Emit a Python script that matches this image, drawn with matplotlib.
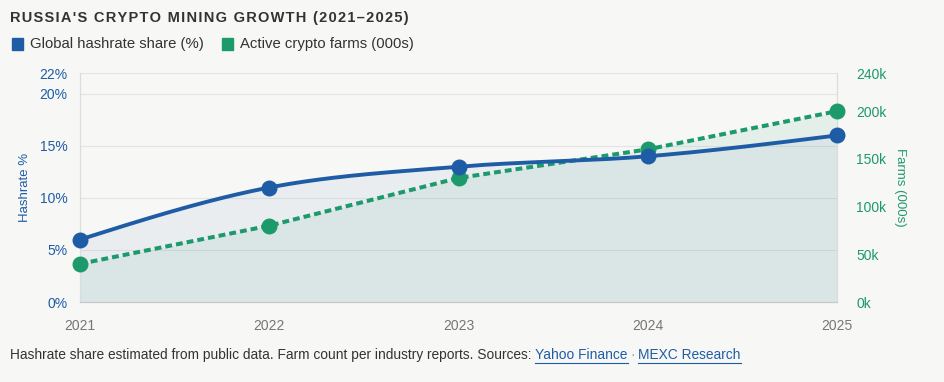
import numpy as np
import matplotlib
matplotlib.use("Agg")
import matplotlib.pyplot as plt

plt.rcParams["font.family"] = ["Liberation Sans", "DejaVu Sans"]

# Chart data
years = [2021, 2022, 2023, 2024, 2025]
hashrate_share = [6, 11, 13, 14, 16]        # percent
active_farms = [40, 80, 130, 160, 200]      # thousands

left_ticks = [0, 5, 10, 15, 20, 22]
right_ticks = [0, 50, 100, 150, 200, 240]

BLUE = "#1f5ca6"
GREEN = "#1d9a6c"
BG = "#f7f7f5"


def monotone_curve(x, y, n=300):
    # monotone-x cubic (d3 style), only used to draw the smooth line
    x = np.asarray(x, float)
    y = np.asarray(y, float)
    h = np.diff(x)
    s = np.diff(y) / h
    m = np.zeros_like(y)
    for i in range(1, len(y) - 1):
        p = (s[i - 1] * h[i] + s[i] * h[i - 1]) / (h[i - 1] + h[i])
        m[i] = (np.sign(s[i - 1]) + np.sign(s[i])) * min(abs(s[i - 1]), abs(s[i]), 0.5 * abs(p))
    m[0] = (3 * s[0] - m[1]) / 2
    m[-1] = (3 * s[-1] - m[-2]) / 2
    xs = np.linspace(x[0], x[-1], n)
    idx = np.clip(np.searchsorted(x, xs) - 1, 0, len(x) - 2)
    t = (xs - x[idx]) / h[idx]
    h00 = 2 * t**3 - 3 * t**2 + 1
    h10 = t**3 - 2 * t**2 + t
    h01 = -2 * t**3 + 3 * t**2
    h11 = t**3 - t**2
    ys = h00 * y[idx] + h10 * h[idx] * m[idx] + h01 * y[idx + 1] + h11 * h[idx] * m[idx + 1]
    return xs, ys


fig = plt.figure(figsize=(9.45, 3.82), dpi=100, facecolor=BG)
ax = fig.add_axes([0.0847, 0.2094, 0.801, 0.5995], facecolor=BG)
ax2 = ax.twinx()

# farms (right axis), dashed, filled
ax2.fill_between(years, active_farms, 0, color=GREEN, alpha=0.08, lw=0)
ax2.plot(years, active_farms, color=GREEN, lw=2.9, ls=(0, (1.7, 1.0)), zorder=3)
ax2.scatter(years, active_farms, s=110, color=GREEN, zorder=4, clip_on=False)

# hashrate (left axis), smooth line, filled
xs, ys = monotone_curve(years, hashrate_share)
ax.fill_between(xs, ys, 0, color=BLUE, alpha=0.06, lw=0)
ax2.plot(xs, np.array(ys) * 240 / 22, color=BLUE, lw=2.8, zorder=5)
ax2.scatter(years, np.array(hashrate_share) * 240 / 22, s=110, color=BLUE, zorder=6, clip_on=False)

ax.set_xlim(2021, 2025)
ax.set_ylim(0, 22)
ax2.set_ylim(0, 240)
ax.set_xticks(years)
ax.set_yticks(left_ticks)
ax.set_yticklabels([f"{v}%" for v in left_ticks])
ax2.set_yticks(right_ticks)
ax2.set_yticklabels([f"{v}k" for v in right_ticks])

ax.grid(axis="y", color="#e4e4e4", lw=0.8)
ax.set_axisbelow(True)
for a in (ax, ax2):
    a.spines["top"].set_visible(False)
    a.spines["left"].set_color("#dcdcdc")
    a.spines["right"].set_color("#dcdcdc")
    a.spines["bottom"].set_color("#c8c8c8")
    a.tick_params(length=0)

ax.tick_params(axis="x", colors="#777777", labelsize=10, pad=12)
ax.tick_params(axis="y", colors=BLUE, labelsize=10, pad=9)
ax2.tick_params(axis="y", colors=GREEN, labelsize=10, pad=14)

ax.set_ylabel("Hashrate %", color=BLUE, fontsize=9.5, labelpad=6)
ax2.set_ylabel("Farms (000s)", color=GREEN, fontsize=9.5, rotation=270, labelpad=14)

# title and legend
fig.text(10 / 945, 1 - 18 / 382, "\u200a".join("RUSSIA'S CRYPTO MINING GROWTH (2021\u20132025)"),
         fontsize=10.5, fontweight="bold", color="#333333", va="center")
fig.patches.append(plt.Rectangle((12 / 945, 1 - 50 / 382), 11 / 945, 12 / 382,
                                 transform=fig.transFigure, color=BLUE))
fig.text(30 / 945, 1 - 44 / 382, "Global hashrate share (%)", fontsize=10.7,
         color="#333333", va="center")
fig.patches.append(plt.Rectangle((222 / 945, 1 - 50 / 382), 11 / 945, 12 / 382,
                                 transform=fig.transFigure, color=GREEN))
fig.text(240 / 945, 1 - 44 / 382, "Active crypto farms (000s)", fontsize=10.7,
         color="#333333", va="center")

# footnote with link-style sources
note = fig.text(10 / 945, 1 - 355 / 382,
                "Hashrate share estimated from public data. Farm count per industry reports. Sources: ",
                fontsize=9.9, color="#333333", va="center")
fig.canvas.draw()
r = fig.canvas.get_renderer()
bb = note.get_window_extent(r)
x0 = bb.x1
for i, src in enumerate(["Yahoo Finance", "MEXC Research"]):
    t = fig.text(x0 / 945, 1 - 355 / 382, src, fontsize=9.9, color=BLUE, va="center")
    b = t.get_window_extent(r)
    fig.add_artist(plt.Line2D([b.x0 / 945, b.x1 / 945], [(b.y0 - 1) / 382] * 2,
                              transform=fig.transFigure, color=BLUE, lw=0.8))
    x0 = b.x1
    if i == 0:
        d = fig.text((x0 + 3) / 945, 1 - 355 / 382, "\u00b7", fontsize=9.9, color="#999999", va="center")
        x0 = d.get_window_extent(r).x1 + 3

fig.savefig("out.png", dpi=100, facecolor=BG)
